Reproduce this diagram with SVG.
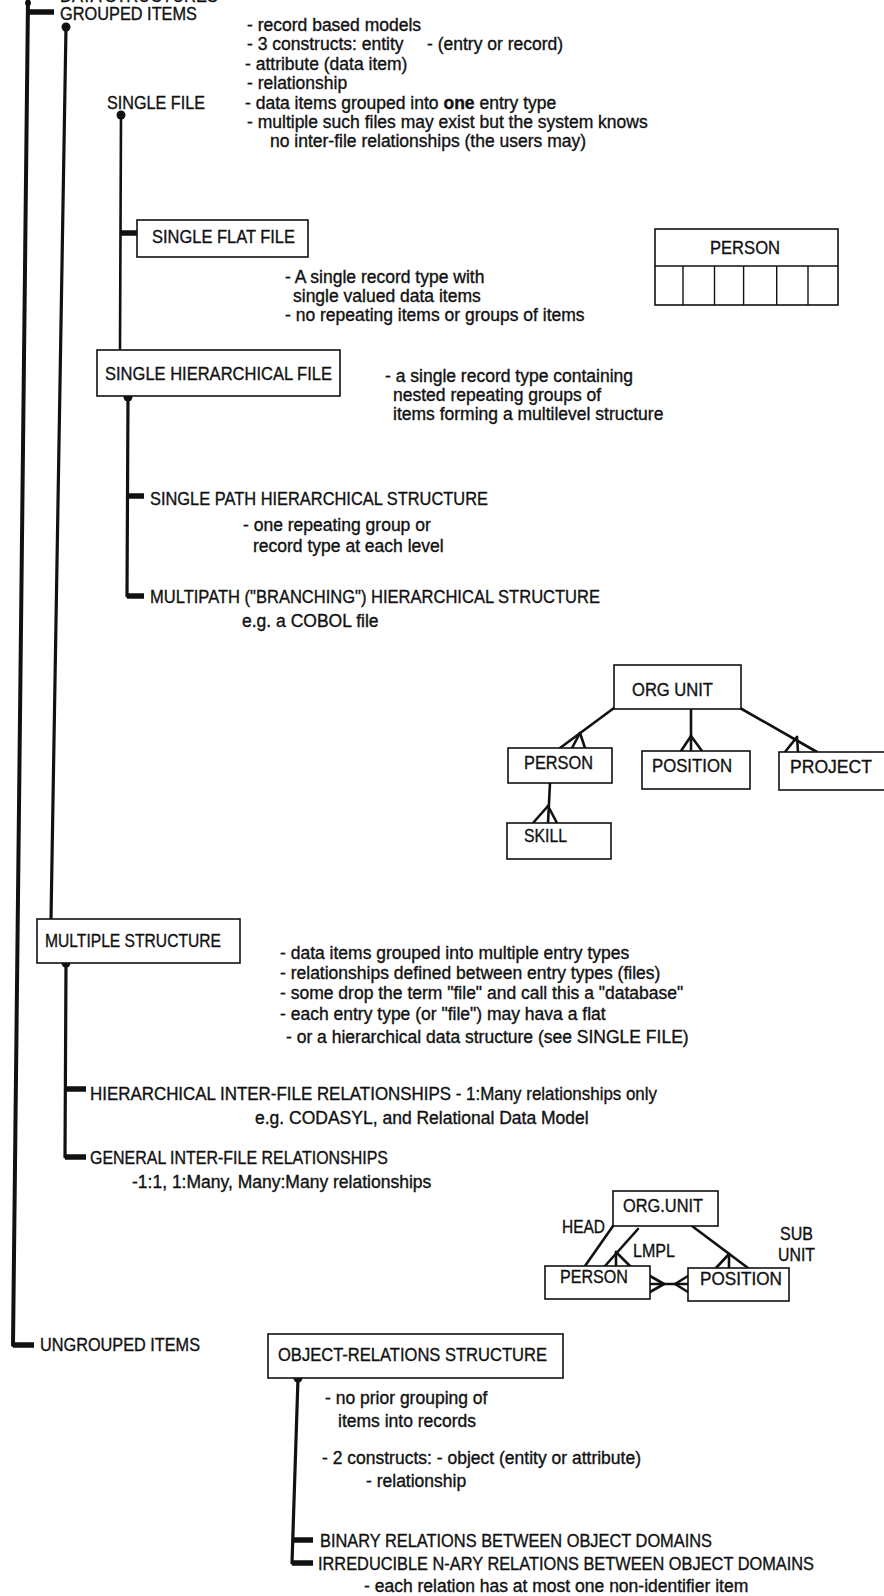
<svg xmlns="http://www.w3.org/2000/svg" width="884" height="1596" viewBox="0 0 884 1596">
<style>
text { font-family: "Liberation Sans", Arial, Helvetica, sans-serif; fill: #111; stroke: #111; stroke-width: 0.35; }
.d { font-size: 17.5px; }
.c { font-size: 18.5px; }
.box { fill: #fff; stroke: #111; stroke-width: 1.6; }
.ln { stroke: #111; stroke-linecap: round; fill: none; }
.main { stroke-width: 4; }
.br { stroke-width: 3.2; }
.thin { stroke-width: 2.6; }
.tk { stroke-width: 5.5; stroke-linecap: butt; }
.rel { stroke-width: 2.6; }
.cell { stroke: #111; stroke-width: 1.4; }
.dot { fill: #111; }
</style>
<rect width="884" height="1596" fill="#fff"/>

<g id="connectors">
  <line class="ln main" x1="28" y1="0" x2="13" y2="1345"/>
  <circle class="dot" cx="28" cy="3" r="3"/>
  <line class="ln tk" x1="28" y1="12" x2="54" y2="12"/>
  <line class="ln tk" x1="13" y1="1345" x2="34" y2="1345"/>
  <circle class="dot" cx="66" cy="27" r="4.5"/>
  <line class="ln br" x1="66" y1="27" x2="51" y2="919"/>
  <circle class="dot" cx="121" cy="115" r="4.5"/>
  <line class="ln thin" x1="121" y1="115" x2="120" y2="350"/>
  <line class="ln tk" x1="120" y1="233" x2="138" y2="233"/>
  <circle class="dot" cx="128" cy="397" r="4.5"/>
  <line class="ln br" x1="128" y1="397" x2="127" y2="596"/>
  <line class="ln tk" x1="127" y1="496" x2="144" y2="496"/>
  <line class="ln tk" x1="127" y1="596" x2="144" y2="596"/>
  <circle class="dot" cx="66" cy="963" r="4.5"/>
  <line class="ln br" x1="66" y1="963" x2="65" y2="1157"/>
  <line class="ln tk" x1="65" y1="1089" x2="86" y2="1089"/>
  <line class="ln tk" x1="65" y1="1157" x2="86" y2="1157"/>
  <circle class="dot" cx="298" cy="1378" r="4.5"/>
  <line class="ln br" x1="298" y1="1378" x2="292" y2="1563"/>
  <line class="ln tk" x1="292" y1="1540" x2="313" y2="1540"/>
  <line class="ln tk" x1="292" y1="1563" x2="313" y2="1563"/>

  <line class="ln rel" x1="614" y1="708" x2="560" y2="748"/>
  <line class="ln rel" x1="580" y1="733" x2="572" y2="748"/>
  <line class="ln rel" x1="580" y1="733" x2="585" y2="748"/>
  <line class="ln rel" x1="691" y1="709" x2="691" y2="751"/>
  <line class="ln rel" x1="691" y1="736" x2="681" y2="751"/>
  <line class="ln rel" x1="691" y1="736" x2="702" y2="751"/>
  <line class="ln rel" x1="740" y1="708" x2="817" y2="752"/>
  <line class="ln rel" x1="797" y1="737" x2="785" y2="752"/>
  <line class="ln rel" x1="797" y1="737" x2="798" y2="752"/>
  <line class="ln rel" x1="550" y1="783" x2="548" y2="823"/>
  <line class="ln rel" x1="548" y1="806" x2="533" y2="823"/>
  <line class="ln rel" x1="548" y1="806" x2="557" y2="823"/>

  <line class="ln rel" x1="613" y1="1226" x2="585" y2="1266"/>
  <line class="ln rel" x1="638" y1="1229" x2="605" y2="1266"/>
  <line class="ln rel" x1="616" y1="1252" x2="616" y2="1266"/>
  <line class="ln rel" x1="616" y1="1252" x2="630" y2="1266"/>
  <line class="ln rel" x1="692" y1="1226" x2="748" y2="1268"/>
  <line class="ln rel" x1="729" y1="1254" x2="716" y2="1268"/>
  <line class="ln rel" x1="729" y1="1254" x2="729" y2="1268"/>
  <line class="ln rel" x1="650" y1="1284" x2="688" y2="1284"/>
  <line class="ln rel" x1="664" y1="1284" x2="650" y2="1276"/>
  <line class="ln rel" x1="664" y1="1284" x2="650" y2="1292"/>
  <line class="ln rel" x1="675" y1="1284" x2="688" y2="1276"/>
  <line class="ln rel" x1="675" y1="1284" x2="688" y2="1292"/>
</g>

<g id="title-partial">
  <text class="c" x="60" y="2" textLength="158" lengthAdjust="spacingAndGlyphs">DATA STRUCTURES</text>
</g>

<g id="grouped-items">
  <text class="c" x="60" y="20" textLength="137" lengthAdjust="spacingAndGlyphs">GROUPED ITEMS</text>
</g>

<g id="grouped-desc">
  <text class="d" x="247" y="31">- record based models</text>
  <text class="d" x="247" y="50">- 3 constructs: entity</text>
  <text class="d" x="427" y="50">- (entry or record)</text>
  <text class="d" x="245" y="70">- attribute (data item)</text>
  <text class="d" x="247" y="89">- relationship</text>
  <text class="d" x="245" y="109">- data items grouped into <tspan font-weight="bold">one</tspan> entry type</text>
  <text class="d" x="247" y="128">- multiple such files may exist but the system knows</text>
  <text class="d" x="270" y="147">no inter-file relationships (the users may)</text>
</g>

<g id="single-file">
  <text class="c" x="107" y="109" textLength="98" lengthAdjust="spacingAndGlyphs">SINGLE FILE</text>
</g>

<g id="single-flat-file">
  <rect class="box" x="137" y="220" width="171" height="37"/>
  <text class="c" x="152" y="243" textLength="143" lengthAdjust="spacingAndGlyphs">SINGLE FLAT FILE</text>
</g>

<g id="flat-desc">
  <text class="d" x="285" y="283">- A single record type with</text>
  <text class="d" x="293" y="302">single valued data items</text>
  <text class="d" x="285" y="321">- no repeating items or groups of items</text>
</g>

<g id="person-record">
  <rect class="box" x="655" y="229" width="183" height="76"/>
  <line class="cell" x1="655" y1="266" x2="838" y2="266"/>
  <line class="cell" x1="683" y1="266" x2="683" y2="305"/>
  <line class="cell" x1="714.5" y1="266" x2="714.5" y2="305"/>
  <line class="cell" x1="743.6" y1="266" x2="743.6" y2="305"/>
  <line class="cell" x1="776.7" y1="266" x2="776.7" y2="305"/>
  <line class="cell" x1="808" y1="266" x2="808" y2="305"/>
  <text class="c" x="710" y="254" textLength="70" lengthAdjust="spacingAndGlyphs">PERSON</text>
</g>

<g id="single-hierarchical-file">
  <rect class="box" x="97" y="350" width="243" height="46"/>
  <text class="c" x="105" y="380" textLength="227" lengthAdjust="spacingAndGlyphs">SINGLE HIERARCHICAL FILE</text>
</g>

<g id="hier-desc">
  <text class="d" x="385" y="382">- a single record type containing</text>
  <text class="d" x="393" y="401">nested  repeating groups of</text>
  <text class="d" x="393" y="420">items forming a multilevel structure</text>
</g>

<g id="single-path">
  <text class="c" x="150" y="505" textLength="338" lengthAdjust="spacingAndGlyphs">SINGLE PATH HIERARCHICAL STRUCTURE</text>
  <text class="d" x="243" y="531">- one repeating group or</text>
  <text class="d" x="253" y="552">record type at each level</text>
</g>

<g id="multipath">
  <text class="c" x="150" y="603" textLength="450" lengthAdjust="spacingAndGlyphs">MULTIPATH ("BRANCHING") HIERARCHICAL STRUCTURE</text>
  <text class="d" x="242" y="627">e.g. a COBOL file</text>
</g>

<g id="er1-org-unit">
  <rect class="box" x="614" y="665" width="127" height="44"/>
  <text class="c" x="632" y="696" textLength="81" lengthAdjust="spacingAndGlyphs">ORG UNIT</text>
</g>
<g id="er1-person">
  <rect class="box" x="508" y="748" width="104" height="35"/>
  <text class="c" x="524" y="769" textLength="69" lengthAdjust="spacingAndGlyphs">PERSON</text>
</g>
<g id="er1-position">
  <rect class="box" x="642" y="751" width="108" height="38"/>
  <text class="c" x="652" y="772" textLength="80" lengthAdjust="spacingAndGlyphs">POSITION</text>
</g>
<g id="er1-project">
  <rect class="box" x="779" y="752" width="110" height="38"/>
  <text class="c" x="790" y="773" textLength="82" lengthAdjust="spacingAndGlyphs">PROJECT</text>
</g>
<g id="er1-skill">
  <rect class="box" x="507" y="823" width="104" height="36"/>
  <text class="c" x="524" y="842" textLength="43" lengthAdjust="spacingAndGlyphs">SKILL</text>
</g>

<g id="multiple-structure">
  <rect class="box" x="37" y="919" width="203" height="44"/>
  <text class="c" x="45" y="947" textLength="176" lengthAdjust="spacingAndGlyphs">MULTIPLE STRUCTURE</text>
</g>

<g id="multiple-desc">
  <text class="d" x="280" y="959">- data items grouped into multiple entry types</text>
  <text class="d" x="280" y="979">- relationships defined between entry types (files)</text>
  <text class="d" x="280" y="999">- some drop the term "file" and call this a  "database"</text>
  <text class="d" x="280" y="1020">- each entry type (or "file") may hava  a flat</text>
  <text class="d" x="286" y="1043">- or a hierarchical data structure (see SINGLE FILE)</text>
</g>

<g id="hierarchical-inter-file">
  <text class="c" x="90" y="1100" textLength="567" lengthAdjust="spacingAndGlyphs">HIERARCHICAL INTER-FILE RELATIONSHIPS - 1:Many relationships only</text>
  <text class="d" x="255" y="1124">e.g. CODASYL, and Relational Data Model</text>
</g>

<g id="general-inter-file">
  <text class="c" x="90" y="1164" textLength="298" lengthAdjust="spacingAndGlyphs">GENERAL INTER-FILE RELATIONSHIPS</text>
  <text class="d" x="132" y="1188">-1:1, 1:Many, Many:Many relationships</text>
</g>

<g id="er2-org-unit">
  <rect class="box" x="613" y="1191" width="105" height="35"/>
  <text class="c" x="623" y="1212" textLength="80" lengthAdjust="spacingAndGlyphs">ORG.UNIT</text>
</g>
<g id="er2-labels">
  <text class="c" x="562" y="1233" textLength="43" lengthAdjust="spacingAndGlyphs">HEAD</text>
  <text class="c" x="633" y="1257" textLength="42" lengthAdjust="spacingAndGlyphs">LMPL</text>
  <text class="c" x="780" y="1240" textLength="33" lengthAdjust="spacingAndGlyphs">SUB</text>
  <text class="c" x="778" y="1261" textLength="37" lengthAdjust="spacingAndGlyphs">UNIT</text>
</g>
<g id="er2-person">
  <rect class="box" x="545" y="1266" width="105" height="33"/>
  <text class="c" x="560" y="1283" textLength="68" lengthAdjust="spacingAndGlyphs">PERSON</text>
</g>
<g id="er2-position">
  <rect class="box" x="688" y="1268" width="101" height="33"/>
  <text class="c" x="700" y="1285" textLength="82" lengthAdjust="spacingAndGlyphs">POSITION</text>
</g>

<g id="ungrouped-items">
  <text class="c" x="40" y="1351" textLength="160" lengthAdjust="spacingAndGlyphs">UNGROUPED ITEMS</text>
</g>

<g id="object-relations-structure">
  <rect class="box" x="268" y="1334" width="295" height="44"/>
  <text class="c" x="278" y="1361" textLength="269" lengthAdjust="spacingAndGlyphs">OBJECT-RELATIONS STRUCTURE</text>
</g>

<g id="object-desc">
  <text class="d" x="325" y="1404">- no prior grouping of</text>
  <text class="d" x="338" y="1427">items into records</text>
  <text class="d" x="322" y="1464">- 2 constructs: - object (entity or attribute)</text>
  <text class="d" x="366" y="1487">- relationship</text>
</g>

<g id="binary-relations">
  <text class="c" x="320" y="1547" textLength="392" lengthAdjust="spacingAndGlyphs">BINARY RELATIONS BETWEEN OBJECT DOMAINS</text>
</g>

<g id="irreducible-relations">
  <text class="c" x="318" y="1570" textLength="496" lengthAdjust="spacingAndGlyphs">IRREDUCIBLE N-ARY RELATIONS BETWEEN OBJECT DOMAINS</text>
  <text class="d" x="364" y="1592">- each  relation has at most one non-identifier item</text>
</g>
</svg>
